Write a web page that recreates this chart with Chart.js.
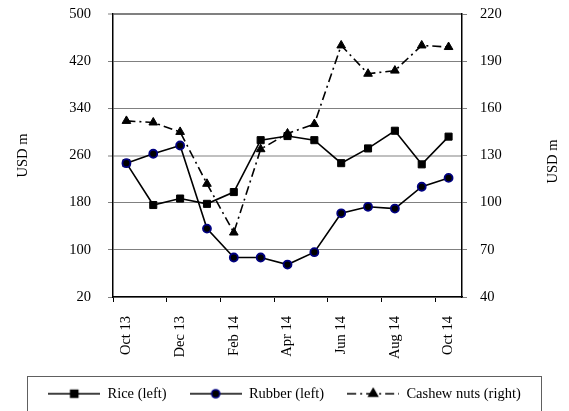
<!DOCTYPE html>
<html>
<head>
<meta charset="utf-8">
<script src="https://cdn.jsdelivr.net/npm/chart.js@4.4.0/dist/chart.umd.min.js"></script>
<style>
  html, body { margin: 0; padding: 0; background: #fff; }
  #wrap { width: 569px; height: 411px; }
</style>
</head>
<body>
<div id="wrap"><canvas id="chart" width="569" height="411"></canvas></div>
<script>
// values
const months = ['Oct 13', 'Nov 13', 'Dec 13', 'Jan 14', 'Feb 14', 'Mar 14', 'Apr 14',
                'May 14', 'Jun 14', 'Jul 14', 'Aug 14', 'Sep 14', 'Oct 14'];
const rice = [247, 176, 187, 178, 198, 286, 293, 286, 247, 272, 302, 245, 292];
const rubber = [247, 263, 277, 136, 87, 87, 75, 96, 162, 173, 170, 207, 222];
const cashew = [152, 151, 145, 112, 81, 134, 144, 150, 200, 182, 184, 200, 199];

const leftTicks = { min: 20, max: 500, step: 80 };
const rightTicks = { min: 40, max: 220, step: 30 };

const FONT = "'Liberation Serif', 'Times New Roman', serif";
const tickFont = { family: FONT, size: 14.5 };

// small canvas used as legend sample: line with a marker in the middle
function legendSample(ds) {
    const c = document.createElement('canvas');
    c.width = 52;
    c.height = 14;
    const ctx = c.getContext('2d');
    ctx.strokeStyle = ds.borderColor;
    ctx.lineWidth = ds.borderWidth;
    ctx.setLineDash(ds.borderDash || []);
    ctx.beginPath();
    ctx.moveTo(0, 7);
    ctx.lineTo(52, 7);
    ctx.stroke();
    ctx.setLineDash([]);
    ctx.fillStyle = ds.pointBackgroundColor;
    ctx.strokeStyle = ds.pointBorderColor;
    Chart.helpers.drawPoint(ctx, {
        pointStyle: ds.pointStyle,
        radius: ds.pointRadius,
        borderWidth: ds.pointBorderWidth,
        rotation: 0
    }, 26, 7);
    return c;
}

// legend frame (runs off the bottom of the picture like the original)
const legendFrame = {
    id: 'legendFrame',
    afterDraw(chart) {
        const lg = chart.legend;
        const ctx = chart.ctx;
        ctx.save();
        ctx.strokeStyle = '#606060';
        ctx.lineWidth = 1;
        ctx.strokeRect(27.5, Math.round(lg.top + 12) + 0.5, chart.width - 55, 100);
        ctx.restore();
    }
};

// right axis title reads bottom-to-top, like the left one
const rightTitle = {
    id: 'rightTitle',
    afterDraw(chart) {
        const ctx = chart.ctx;
        const area = chart.chartArea;
        ctx.save();
        ctx.translate(553, (area.top + area.bottom) / 2 + 6);
        ctx.rotate(-Math.PI / 2);
        ctx.font = '14.5px ' + FONT;
        ctx.fillStyle = '#000';
        ctx.textAlign = 'center';
        ctx.textBaseline = 'middle';
        ctx.fillText('USD m', 0, 0);
        ctx.restore();
    }
};

// fixed axis widths, and no extra top/bottom room for the value axes
const fitValueAxis = width => s => {
    s.width = width;
    s.paddingTop = 0;
    s.paddingBottom = 0;
};

new Chart(document.getElementById('chart'), {
    type: 'line',
    data: {
        labels: months,
        datasets: [
            {
                label: 'Rice (left)',
                data: rice,
                yAxisID: 'y',
                order: 1,
                borderColor: '#000',
                borderWidth: 1.6,
                pointStyle: 'rect',
                pointRadius: 5,
                pointBackgroundColor: '#000',
                pointBorderColor: '#000',
                pointBorderWidth: 1,
                tension: 0
            },
            {
                label: 'Rubber (left)',
                data: rubber,
                yAxisID: 'y',
                order: 0,
                borderColor: '#000',
                borderWidth: 1.6,
                pointStyle: 'circle',
                pointRadius: 4,
                pointBackgroundColor: '#000',
                pointBorderColor: '#000080',
                pointBorderWidth: 1.8,
                tension: 0
            },
            {
                label: 'Cashew nuts (right)',
                data: cashew,
                yAxisID: 'y1',
                order: 2,
                borderColor: '#000',
                borderWidth: 1.6,
                borderDash: [9, 4, 2, 4],
                pointStyle: 'triangle',
                pointRadius: 5,
                pointBackgroundColor: '#000',
                pointBorderColor: '#000',
                pointBorderWidth: 1,
                tension: 0
            }
        ]
    },
    options: {
        responsive: false,
        animation: false,
        events: [],
        layout: { padding: { top: 14, left: 0, right: 0, bottom: 0 } },
        plugins: {
            tooltip: { enabled: false },
            legend: {
                position: 'bottom',
                labels: {
                    usePointStyle: true,
                    pointStyleWidth: 52,
                    padding: 23,
                    color: '#000',
                    font: tickFont,
                    sort: (a, b) => a.datasetIndex - b.datasetIndex,
                    generateLabels: chart =>
                        Chart.defaults.plugins.legend.labels.generateLabels(chart).map(item => ({
                            ...item,
                            pointStyle: legendSample(chart.data.datasets[item.datasetIndex])
                        }))
                }
            }
        },
        scales: {
            x: {
                offset: true,
                afterFit: s => { s.height = 66.5; },
                grid: {
                    offset: true,
                    drawOnChartArea: false,
                    tickLength: 5,
                    color: ctx => (ctx.index % 2 === 0 ? '#000' : 'rgba(0,0,0,0)')
                },
                border: { color: '#000', width: 1.2 },
                ticks: {
                    autoSkip: false,
                    minRotation: 90,
                    maxRotation: 90,
                    padding: 14,
                    color: '#000',
                    font: tickFont,
                    callback: (v, i) => (i % 2 === 0 ? months[i] : '')
                }
            },
            y: {
                position: 'left',
                min: leftTicks.min,
                max: leftTicks.max,
                afterFit: fitValueAxis(113),
                grid: {
                    color: ctx => (ctx.tick && ctx.tick.value === 260 ? '#c0c0c0' : '#808080'),
                    lineWidth: ctx => (ctx.tick && (ctx.tick.value === 260 || ctx.tick.value === 500) ? 2 : 1),
                    tickLength: 5,
                    tickColor: '#808080',
                    tickWidth: 1
                },
                border: { color: '#000', width: 1.5 },
                ticks: {
                    stepSize: leftTicks.step,
                    padding: 17,
                    color: '#000',
                    font: tickFont
                },
                title: {
                    display: true,
                    text: 'USD m',
                    color: '#000',
                    font: tickFont,
                    padding: { top: 14, bottom: 0 }
                }
            },
            y1: {
                position: 'right',
                min: rightTicks.min,
                max: rightTicks.max,
                afterFit: fitValueAxis(107),
                grid: {
                    drawOnChartArea: false,
                    tickLength: 5,
                    color: '#808080'
                },
                border: { color: '#000', width: 1.5 },
                ticks: {
                    stepSize: rightTicks.step,
                    padding: 13,
                    color: '#000',
                    font: tickFont
                }
            }
        }
    },
    plugins: [legendFrame, rightTitle]
});
</script>
</body>
</html>
